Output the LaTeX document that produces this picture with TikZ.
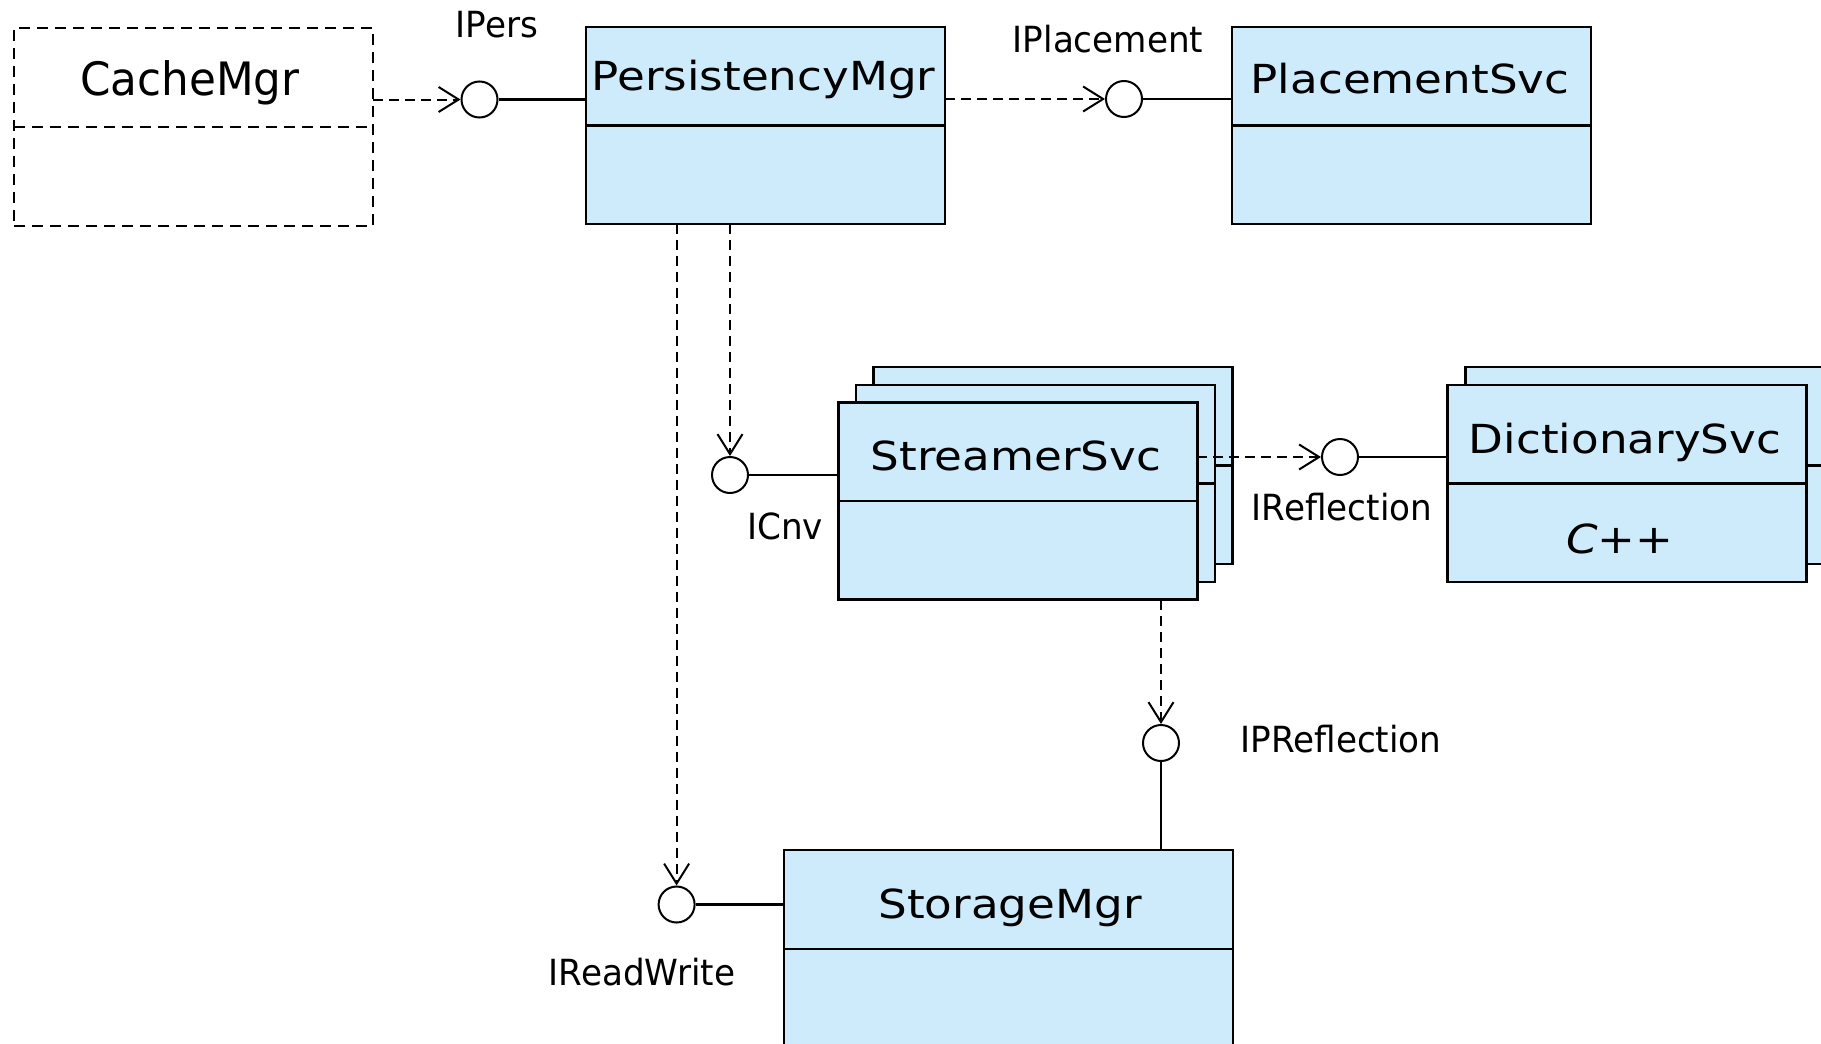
\documentclass[tikz,border=0pt]{standalone}
\usepackage{fontspec}
\setmainfont{DejaVu Sans}
\newfontfamily\classfont[FakeStretch=1.13]{DejaVu Sans}
\newfontfamily\labelfont[FakeStretch=0.95]{DejaVu Sans}
\usetikzlibrary{arrows.meta}
\definecolor{boxfill}{RGB}{206,235,252}
\begin{document}
\begin{tikzpicture}[x=0.5pt,y=-0.5pt,
  classbox/.style={draw, line width=1.25pt, fill=boxfill, rectangle, inner sep=0pt, outer sep=0pt, minimum width=179.5pt, minimum height=98.5pt},
  ghostbox/.style={draw, line width=1.2pt, dash pattern=on 5.5pt off 3.5pt, rectangle, inner sep=0pt, outer sep=0pt, minimum width=179.5pt, minimum height=99pt},
  divider/.style={line width=1.25pt},
  ghostdivider/.style={line width=1.2pt, dash pattern=on 5.5pt off 3.5pt},
  classname/.style={anchor=base, inner sep=0pt, font=\classfont\fontsize{20}{24}\selectfont},
  iface/.style={draw, circle, line width=1pt, fill=white, inner sep=0pt, minimum size=18pt},
  ifacelabel/.style={anchor=base, inner sep=0pt, font=\labelfont\fontsize{18}{22}\selectfont},
  dep/.style={line width=1pt, dash pattern=on 5pt off 3pt, -{Straight Barb[length=10pt,width=12.5pt,line width=1pt]}},
  realize/.style={line width=1.1pt}
]
\fill[white] (0,0) rectangle (1821,1044);
\clip (0,0) rectangle (1821,1044);
\useasboundingbox (0,0) rectangle (1821,1044);

% CacheMgr (dashed)
\node[ghostbox] (cache) at (193.5,127) {};
\draw[ghostdivider] (cache.west) -- (cache.east);
\node[classname, font=\labelfont\fontsize{23}{27}\selectfont] (cachet) at (190,95) {CacheMgr};

% PersistencyMgr
\node[classbox] (pm) at (765.5,125.5) {};
\draw[divider] (pm.west) -- (pm.east);
\node[classname] (pmt) at (763.5,90) {PersistencyMgr};

% PlacementSvc
\node[classbox] (ps) at (1411.5,125.5) {};
\draw[divider] (ps.west) -- (ps.east);
\node[classname] (pst) at (1410,93) {PlacementSvc};

% StreamerSvc (stack of three)
\node[classbox] (st3) at (1053,465.5) {};
\draw[divider] (st3.west) -- (st3.east);
\node[classbox] (st2) at (1035.5,483.5) {};
\draw[divider] (st2.west) -- (st2.east);
\node[classbox] (st) at (1017.75,501) {};
\draw[divider] (st.west) -- (st.east);
\node[classname] (stt) at (1016,470) {StreamerSvc};

% DictionarySvc (stack of two)
\node[classbox] (dictb) at (1645,465.5) {};
\draw[divider] (dictb.west) -- (dictb.east);
\node[classbox] (dict) at (1627,483.5) {};
\draw[divider] (dict.west) -- (dict.east);
\node[classname] (dictt) at (1625,453) {DictionarySvc};
\node[classname] (dictl) at (1620,553) {\itshape C++};

% StorageMgr
\node[classbox, minimum width=224.5pt, minimum height=99pt] (sm) at (1008.3,949) {};
\draw[divider] (sm.west) -- (sm.east);
\node[classname] (smt) at (1010,918) {StorageMgr};

% interfaces (lollipops)
\node[iface] (c1) at (479.5,99.5) {};
\node[iface] (c2) at (1124,99) {};
\node[iface] (c3) at (730,475) {};
\node[iface] (c4) at (1340,457) {};
\node[iface] (c5) at (1161,743) {};
\node[iface] (c6) at (676.6,904.5) {};

\node[ifacelabel] (l1) at (497,37) {IPers};
\node[ifacelabel] (l2) at (1108,53) {IPlacement};
\node[ifacelabel] (l3) at (785,539) {ICnv};
\node[ifacelabel] (l4) at (1342,520) {IReflection};
\node[ifacelabel] (l5) at (1341,752) {IPReflection};
\node[ifacelabel] (l6) at (642,985) {IReadWrite};

% connectors
\draw[dep] (cache.east |- c1) -- (c1.west);
\draw[realize] (c1.east) -- (pm.west |- c1);
\draw[dep] (pm.east |- c2) -- (c2.west);
\draw[realize] (c2.east) -- (ps.west |- c2);
\draw[dep] (c3 |- pm.south) -- (c3.north);
\draw[dep] (c6 |- pm.south) -- (c6.north);
\draw[realize] (c3.east) -- (st.west |- c3);
\draw[dep] (st.east |- c4) -- (c4.west);
\draw[realize] (c4.east) -- (dict.west |- c4);
\draw[dep] (c5 |- st.south) -- (c5.north);
\draw[realize] (c5.south) -- (c5 |- sm.north);
\draw[realize] (c6.east) -- (sm.west |- c6);
\end{tikzpicture}
\end{document}
